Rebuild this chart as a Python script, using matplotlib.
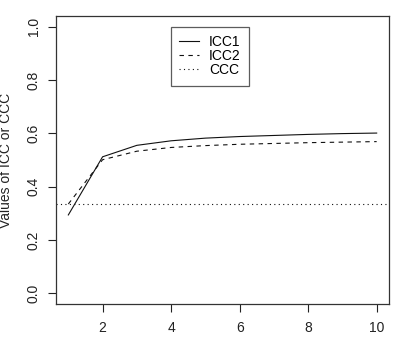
import numpy as np
import matplotlib
matplotlib.use("Agg")
import matplotlib.pyplot as plt

plt.rcParams['font.family'] = ['Liberation Sans', 'DejaVu Sans']

# values
n_raters = [1, 2, 3, 4, 5, 6, 7, 8, 9, 10]
icc1 = [0.294, 0.512, 0.555, 0.572, 0.582, 0.588, 0.592, 0.596, 0.599, 0.601]
icc2 = [0.335, 0.501, 0.533, 0.547, 0.554, 0.559, 0.562, 0.565, 0.567, 0.569]
ccc = 1.0 / 3.0
x_ticks = [2, 4, 6, 8, 10]
y_ticks = [0.0, 0.2, 0.4, 0.6, 0.8, 1.0]

W, H = 393, 340
fig = plt.figure(figsize=(W / 100, H / 100), dpi=100)
# plot region in pixels: left 56, right 389, top 16, bottom 304
ax = fig.add_axes([56 / W, 1 - 304 / H, (389 - 56) / W, (304 - 16) / H])

lw = 0.8
ax.plot(n_raters, icc1, color='#111111', lw=lw, ls='-', label='ICC1')
ax.plot(n_raters, icc2, color='#111111', lw=lw, ls=(0, (4, 4)), label='ICC2')
ax.axhline(ccc, color='#111111', lw=lw, ls=(0, (1, 3)), label='CCC')

ax.set_xlim(0.64, 10.36)
ax.set_ylim(-0.04, 1.04)
ax.set_xticks(x_ticks)
ax.set_xticklabels([str(t) for t in x_ticks])
ax.set_yticks(y_ticks)
ax.set_yticklabels(['%.1f' % t for t in y_ticks], rotation=90, va='center')
ax.tick_params(direction='out', length=6, width=0.8, colors='#222222',
               labelsize=10, pad=6)
ax.tick_params(axis='y', pad=5)
for s in ax.spines.values():
    s.set_color('#333333')
    s.set_linewidth(0.9)

ax.set_ylabel('Values of ICC or CCC', fontsize=10, color='#222222')
ax.yaxis.set_label_coords((6 - 56) / 333, 0.5)
ax.yaxis.label.set_va('center')

leg = ax.legend(loc='upper left', bbox_to_anchor=(0.345, 0.962), fontsize=10,
                handlelength=1.45, handletextpad=0.7, labelspacing=0.0,
                borderpad=0.6, borderaxespad=0, fancybox=False, frameon=True)
leg.get_frame().set_edgecolor('#333333')
leg.get_frame().set_linewidth(0.9)

fig.savefig('out.png', dpi=100)
